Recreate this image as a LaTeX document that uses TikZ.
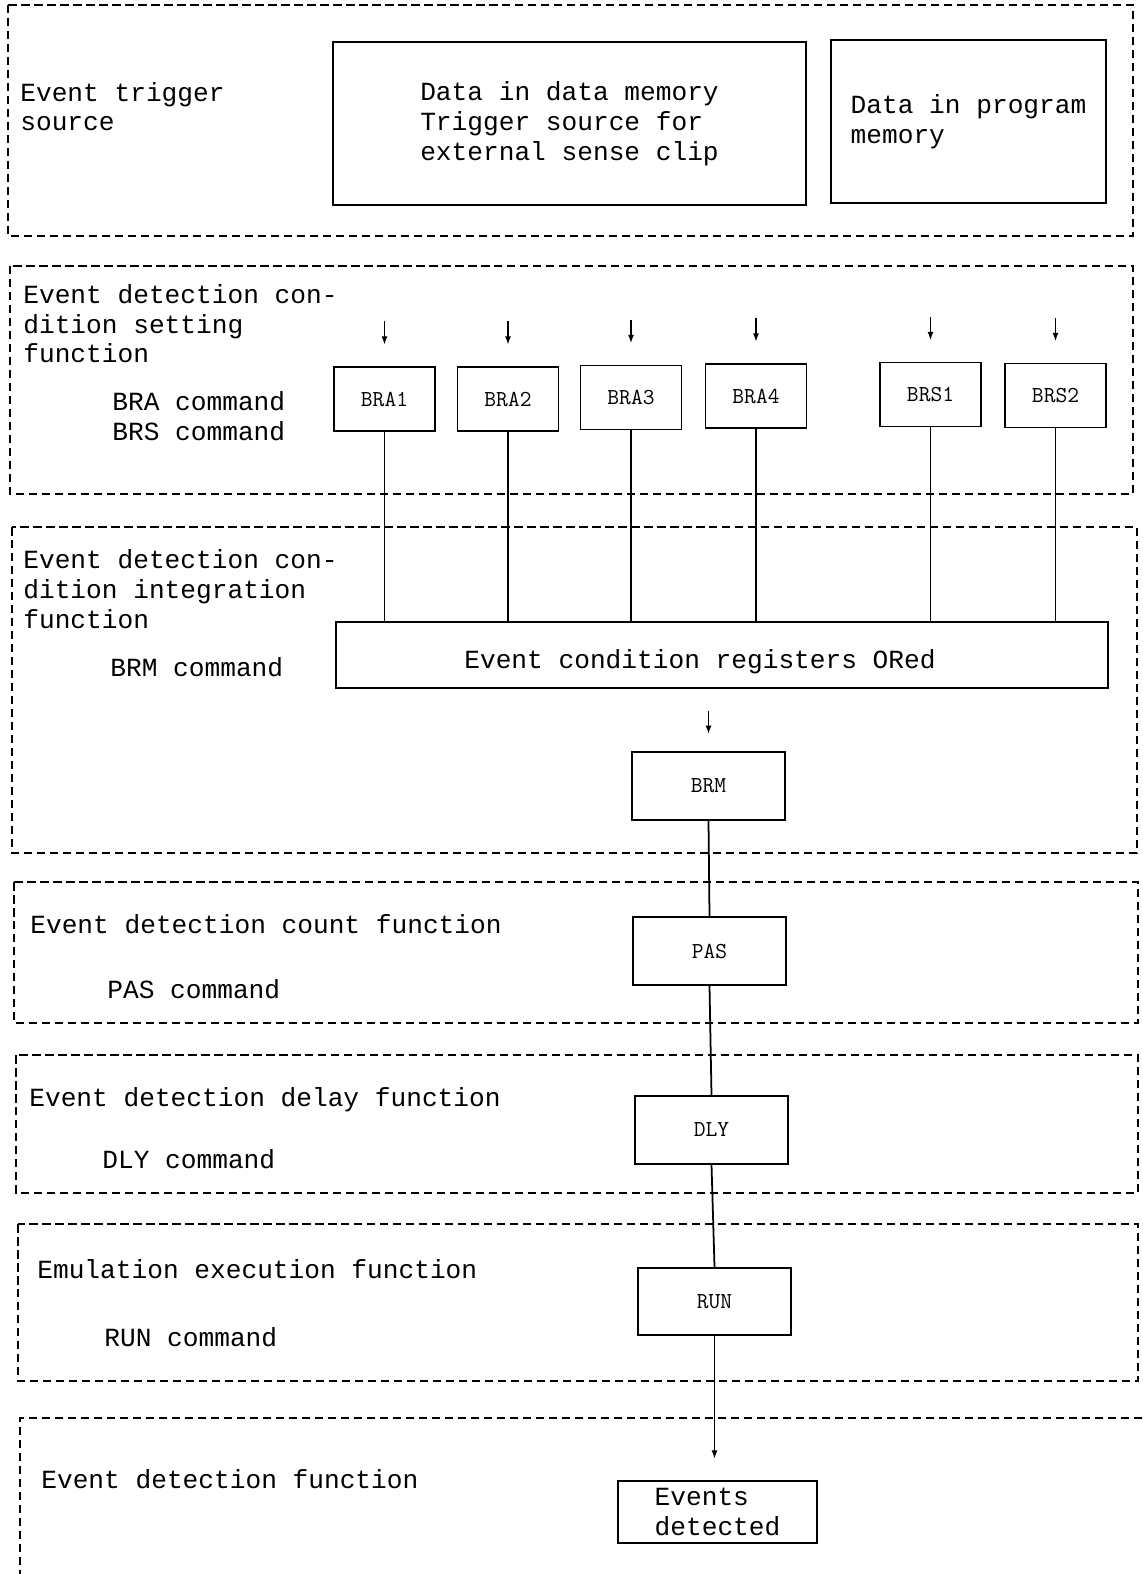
\documentclass[tikz,border=0pt]{standalone}
\usepackage{fontspec}
\newfontfamily\lblfont{Liberation Mono}
\usetikzlibrary{arrows.meta}

\begin{document}
\begin{tikzpicture}[x=0.02cm,y=-0.02cm,
  frame/.style={draw, line width=1pt, dash pattern=on 0.17cm off 0.09cm},
  box/.style={draw, line width=1.1pt, inner sep=0pt, align=left,
    font=\lblfont\fontsize{14.9pt}{17pt}\selectfont},
  unit/.style={draw, line width=1.1pt, inner sep=0pt,
    minimum width=2.02cm, minimum height=1.28cm,
    font=\fontsize{13pt}{15pt}\selectfont\ttfamily},
  stage/.style={unit, minimum width=3.06cm, minimum height=1.35cm},
  % multi-line labels: the base anchor sits on the last line
  lbl/.style={anchor=base west, align=left, inner sep=0pt,
    font=\lblfont\fontsize{14.9pt}{17pt}\selectfont},
  wire/.style={line width=1pt},
  feed/.style={line width=1.1pt, -{Latex[length=5pt,width=3.5pt]}}
]
\useasboundingbox (0,0) rectangle (1142,1574);

% dashed function frames
\draw[frame] (8,5) rectangle (1133,236);
\draw[frame] (10,266) rectangle (1133,494);
\draw[frame] (12,527) rectangle (1137,853);
\draw[frame] (14,882) rectangle (1138,1023);
\draw[frame] (16,1055) rectangle (1138,1193);
\draw[frame] (18,1224) rectangle (1138,1381);
\draw[frame] (1142,1418) -- (20,1418) -- (20,1574);

% trigger sources
\node[lbl] (srcL) at (20,131) {Event trigger\\source};
\node[box, minimum width=9.46cm, minimum height=3.26cm] (dmem) at (569.5,123.5)
  {Data in data memory\\Trigger source for\\external sense clip};
\node[box, minimum width=5.5cm, minimum height=3.26cm] (pmem) at (968.5,121.5)
  {Data in program\\memory};

% condition setting
\node[lbl] (setL) at (23,363) {Event detection con-\\dition setting\\function};
\node[lbl] (braL) at (112,440) {BRA command\\BRS command};
\node[unit] (bra1) at (384.5,399) {BRA1};
\node[unit] (bra2) at (508,399) {BRA2};
\node[unit] (bra3) at (631,397.5) {BRA3};
\node[unit] (bra4) at (756,396) {BRA4};
\node[unit] (brs1) at (930.5,394.5) {BRS1};
\node[unit] (brs2) at (1055.5,395.5) {BRS2};

% condition integration
\node[lbl] (intL) at (23,628) {Event detection con-\\dition integration\\function};
\node[lbl] (brmL) at (110,676) {BRM command};
\node[draw, line width=1.1pt, inner sep=0pt, minimum width=15.44cm,
  minimum height=1.32cm] (ored) at (722,655) {};
\node[lbl, anchor=base] (oredT) at (700,668) {Event condition registers ORed};
\node[stage] (brm) at (708.5,786) {BRM};

% count, delay, execution
\node[lbl] (cntL) at (30,933) {Event detection count function};
\node[lbl] (pasL) at (107,998) {PAS command};
\node[stage] (pas) at (709.5,951) {PAS};

\node[lbl] (dlyF) at (29,1106) {Event detection delay function};
\node[lbl] (dlyL) at (102,1168) {DLY command};
\node[stage] (dly) at (711.5,1130) {DLY};

\node[lbl] (runF) at (37,1278) {Emulation execution function};
\node[lbl] (runL) at (104,1346) {RUN command};
\node[stage] (run) at (714.5,1301.5) {RUN};

% detection
\node[lbl] (detF) at (41,1488) {Event detection function};
\node[box, minimum width=3.98cm, minimum height=1.24cm] (evd) at (717.5,1512)
  {Events\\detected};

% connectors
\foreach \n in {bra1,bra2,bra3,bra4,brs1,brs2} {
  \path (\n.north) ++(0,-45) coordinate (\n-a) ++(0,24) coordinate (\n-b);
  \draw[feed] (\n-a) -- (\n-b);
  \draw[wire] (\n.south) -- (\n.south |- ored.north);
}
\path (brm.north) ++(0,-40) coordinate (brm-a) ++(0,23) coordinate (brm-b);
\draw[feed] (brm-a) -- (brm-b);
\draw[wire] (brm.south) -- (pas.north);
\draw[wire] (pas.south) -- (dly.north);
\draw[wire] (dly.south) -- (run.north);
\path (evd.north) ++(0,-21) coordinate (evd-in);
\draw[feed] (run.south) -- (run.south |- evd-in);
\end{tikzpicture}
\end{document}
